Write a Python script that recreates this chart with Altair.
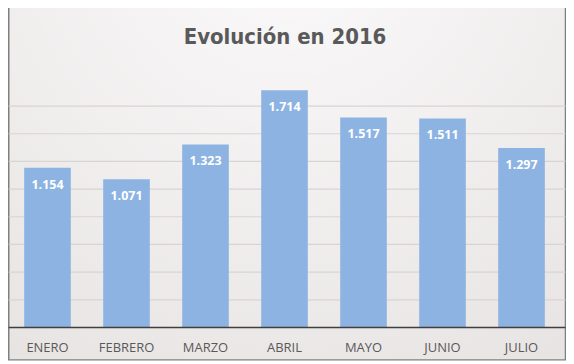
import altair as alt
import pandas as pd

months = ["ENERO", "FEBRERO", "MARZO", "ABRIL", "MAYO", "JUNIO", "JULIO"]
values = [1154, 1071, 1323, 1714, 1517, 1511, 1297]
grid_values = [200, 400, 600, 800, 1000, 1200, 1400, 1600]
title_text = "Evolución en 2016"

W, H = 555, 250

df = pd.DataFrame({"mes": months, "valor": values})
grid_df = pd.DataFrame({"v": grid_values})
base_df = pd.DataFrame({"v": [0]})
one_df = pd.DataFrame({"t": [title_text]})

yscale = alt.Scale(domain=[0, 1800])
xscale = alt.Scale(paddingInner=0.41, paddingOuter=0.205)

frame = alt.Chart(one_df).mark_rect(
    stroke="#7f7f7f",
    strokeWidth=1.5,
    fill=alt.Gradient(
        gradient="radial",
        stops=[alt.GradientStop(offset=0, color="#fbfafa"),
               alt.GradientStop(offset=1, color="#e8e4e4")],
        x1=0.5, y1=0.05, x2=0.5, y2=0.05, r1=0, r2=0.9,
    ),
).encode(
    x=alt.value(0.75), x2=alt.value(559.5),
    y=alt.value(-76), y2=alt.value(282.5),
)

title = alt.Chart(one_df).mark_text(
    font="DejaVu Sans Condensed", fontWeight="bold", fontSize=22,
    color="#595959", align="center", baseline="alphabetic",
).encode(
    x=alt.value(278), y=alt.value(-35), text="t:N",
)

grid = alt.Chart(grid_df).mark_rule(color="#d9d4d4", strokeWidth=1.2).encode(
    y=alt.Y("v:Q", scale=yscale, axis=None),
    x=alt.value(0.75), x2=alt.value(559.5),
)

bars = alt.Chart(df).mark_bar(color="#8db3e2").encode(
    x=alt.X("mes:N", sort=months, scale=xscale, title=None,
            axis=alt.Axis(labelAngle=0, ticks=False, domain=False, labelPadding=14,
                          labelFont="Open Sans", labelFontSize=13, labelColor="#595959",
                          zindex=2)),
    y=alt.Y("valor:Q", scale=yscale, axis=None),
)

labels = alt.Chart(df).transform_calculate(
    txt="replace(format(datum.valor, ','), ',', '.')"
).mark_text(
    color="white", fontWeight="bold", font="Open Sans", fontSize=12.5,
    baseline="middle", dy=17,
).encode(
    x=alt.X("mes:N", sort=months, scale=xscale),
    y=alt.Y("valor:Q", scale=yscale),
    text="txt:N",
)

baseline = alt.Chart(base_df).mark_rule(color="#3f3f3f", strokeWidth=1.5).encode(
    y=alt.Y("v:Q", scale=yscale),
    x=alt.value(0.75), x2=alt.value(559.5),
)

chart = alt.layer(frame, title, grid, bars, labels, baseline).properties(
    width=W, height=H,
    autosize=alt.AutoSizeParams(type="none"),
    padding={"left": 0, "top": 70, "right": 5, "bottom": 34},
).configure_view(stroke=None).configure(background="white")

chart.save("out.html", embed_options={"renderer": "svg", "actions": False})
